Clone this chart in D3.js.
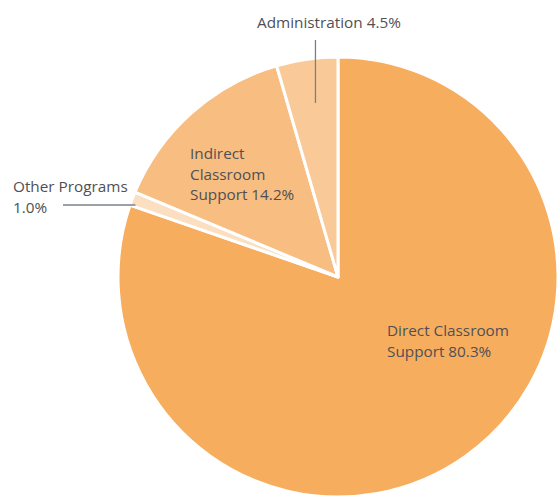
<!DOCTYPE html>
<html>
<head>
<meta charset="utf-8">
<script src="https://cdn.jsdelivr.net/npm/d3@7"></script>
<style>
body { margin: 0; background: #fff; }
text { font-family: "Open Sans", sans-serif; fill: #4f5055; }
</style>
</head>
<body>
<div id="chart"></div>
<script>
var width = 557;
var height = 500;

// slices clockwise from 12 o'clock
var categories = ["Direct Classroom Support", "Other Programs", "Indirect Classroom Support", "Administration"];
var values = [80.3, 1.0, 14.2, 4.5];
var colors = ["#f7ad5e", "#fbdfc0", "#f8bd80", "#f9ca98"];
var labelLines = [
    ["Direct Classroom", "Support 80.3%"],
    ["Other Programs", "1.0%"],
    ["Indirect", "Classroom", "Support 14.2%"],
    ["Administration 4.5%"]
];

var cx = 338, cy = 277, radius = 220;

var svg = d3.select("#chart").append("svg")
    .attr("width", width)
    .attr("height", height);

var g = svg.append("g").attr("transform", "translate(" + cx + "," + cy + ")");

var pie = d3.pie().sort(null).value(function (d) { return d; });
var arc = d3.arc().innerRadius(0).outerRadius(radius);
var arcs = pie(values);

g.selectAll("path.slice")
    .data(arcs)
    .enter()
    .append("path")
    .attr("class", "slice")
    .attr("d", arc)
    .attr("fill", function (d, i) { return colors[i]; })
    .attr("stroke", "#fff")
    .attr("stroke-width", 3)
    .attr("stroke-linejoin", "round");

// label positions (relative to centre)
var labelPos = [
    { x: 49, y: 59 },
    { x: -325, y: -85 },
    { x: -148, y: -118 },
    { x: -81, y: -249 }
];

labelLines.forEach(function (lines, i) {
    var t = g.append("text")
        .attr("x", labelPos[i].x)
        .attr("y", labelPos[i].y)
        .attr("font-size", 15.3);
    lines.forEach(function (s, j) {
        t.append("tspan")
            .attr("x", labelPos[i].x)
            .attr("dy", j === 0 ? 0 : 20.5)
            .text(s);
    });
});

// leader for Other Programs
var otherAngle = (arcs[1].startAngle + arcs[1].endAngle) / 2;
var ox = Math.sin(otherAngle) * radius;
g.append("line")
    .attr("x1", -275).attr("y1", -72)
    .attr("x2", ox + 3).attr("y2", -72)
    .attr("stroke", "#7a7f88")
    .attr("stroke-width", 1.3);

// leader for Administration
var adminAngle = (arcs[3].startAngle + arcs[3].endAngle) / 2;
g.append("line")
    .attr("x1", Math.sin(adminAngle) * 160).attr("y1", -237)
    .attr("x2", Math.sin(adminAngle) * 160).attr("y2", -174)
    .attr("stroke", "#7a7f88")
    .attr("stroke-width", 1.3);
</script>
</body>
</html>
